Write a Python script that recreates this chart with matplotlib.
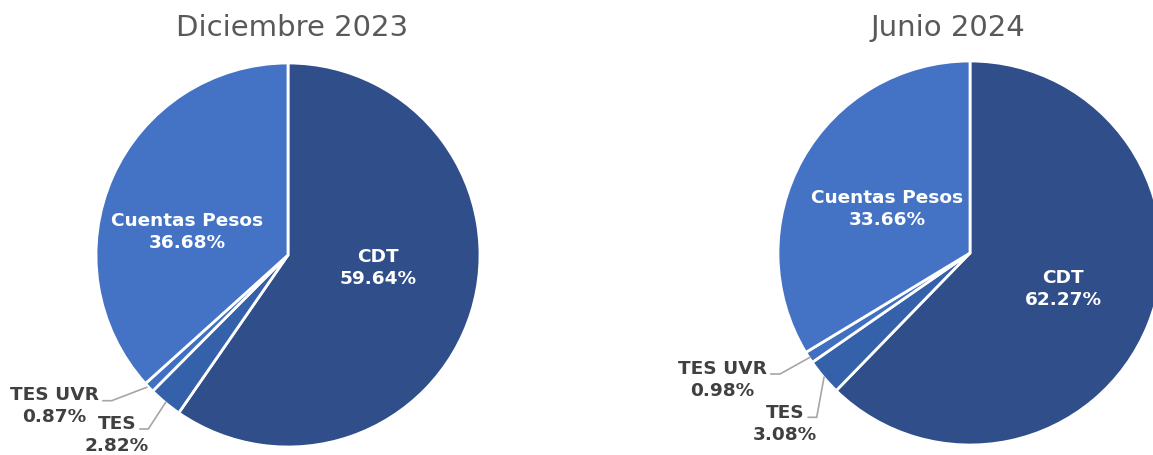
import matplotlib
matplotlib.use("Agg")
import matplotlib.pyplot as plt

titles = ["Diciembre 2023", "Junio 2024"]
categories = ["CDT", "TES", "TES UVR", "Cuentas Pesos"]
dic_2023 = [59.64, 2.82, 0.87, 36.68]
jun_2024 = [62.27, 3.08, 0.98, 33.66]
colors = ["#2F4E8A", "#3561AB", "#4170C0", "#4472C4"]

W, H = 1153, 456
fig = plt.figure(figsize=(W / 100, H / 100), dpi=100)
ax = fig.add_axes([0, 0, 1, 1])

def Y(y):
    return H - y

pies = [
    dict(values=dic_2023, cx=288, cy=256, r=192, title_xy=(292, 28),
         inner={"CDT": (378, 268), "Cuentas Pesos": (187, 232)},
         outer={"TES UVR": (54, 406), "TES": (117, 435)},
         leaders={"TES UVR": [(146.7, 388.3), (111.7, 401.7), (103, 401.7)],
                  "TES": [(165.7, 403.3), (148.3, 430), (140, 430)]}),
    dict(values=jun_2024, cx=970, cy=254, r=192, title_xy=(948, 28),
         inner={"CDT": (1063, 289), "Cuentas Pesos": (887, 209)},
         outer={"TES UVR": (722, 380), "TES": (785, 424)},
         leaders={"TES UVR": [(810, 358.3), (780, 375), (771, 375)],
                  "TES": [(824, 378.3), (816.7, 418.3), (808.3, 418.3)]}),
]

for p, title in zip(pies, titles):
    ax.pie(p["values"], colors=colors, startangle=90, counterclock=False,
           center=(p["cx"], Y(p["cy"])), radius=p["r"], frame=True,
           wedgeprops=dict(edgecolor="white", linewidth=2.0))
    tx, ty = p["title_xy"]
    ax.text(tx, Y(ty), title, ha="center", va="center", fontsize=21,
            color="#595959", family="DejaVu Sans")
    for cat, val in zip(categories, p["values"]):
        label = f"{cat}\n{val:.2f}%"
        if cat in p["inner"]:
            x, y = p["inner"][cat]
            ax.text(x, Y(y), label, ha="center", va="center", fontsize=13.3,
                    color="white", fontweight="bold", linespacing=1.25)
        else:
            x, y = p["outer"][cat]
            ax.text(x, Y(y), label, ha="center", va="center", fontsize=13.3,
                    color="#404040", fontweight="bold", linespacing=1.25)
            pts = p["leaders"][cat]
            ax.plot([q[0] for q in pts], [Y(q[1]) for q in pts],
                    color="#A6A6A6", lw=1.2)

ax.set_xlim(0, W)
ax.set_ylim(0, H)
ax.set_aspect("equal")
ax.axis("off")

fig.savefig("out.png", dpi=100)
